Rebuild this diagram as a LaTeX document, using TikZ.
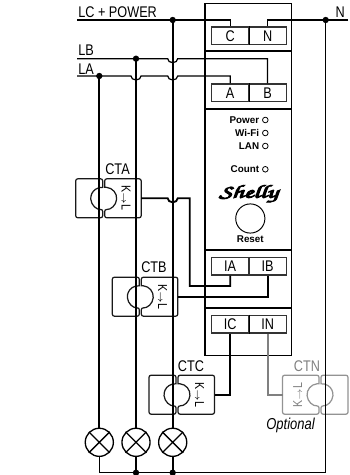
\documentclass[tikz,border=0pt]{standalone}
\usepackage{fontspec}
\usetikzlibrary{positioning}
\setmainfont[FakeStretch=0.82]{Liberation Sans}
\newfontfamily\panelfont{Liberation Sans}
\definecolor{wiregray}{HTML}{808080}
\tikzset{
	wire/.style={line width=1.05pt},
	thinwire/.style={line width=.7pt,color=black},
	junction/.style={circle,fill=black,inner sep=0pt,minimum size=3.6pt},
	terminal/.style={draw=black!80,line width=.7pt,minimum width=21.1pt,minimum height=10pt,inner sep=0pt,font=\fontsize{8.8}{9}\selectfont},
	lamp/.style={circle,draw,line width=.75pt,fill=white,minimum size=16pt,inner sep=0pt},
	led/.style={circle,draw,line width=.45pt,inner sep=0pt,minimum size=3.2pt},
	ledlabel/.style={inner sep=0pt,anchor=east,font=\panelfont\bfseries\fontsize{5.6}{6}\selectfont},
	tag/.style={inner sep=0pt,font=\fontsize{8.8}{9}\selectfont},
	kltag/.style={inner sep=0pt,font=\fontsize{7.4}{8}\selectfont}
}
% one clamp: name, centre of the ring, direction of the long half, colour
\newcommand{\ctclamp}[4]{
	\begin{scope}[shift={(#2)},xscale=#3,color=#4,line width=.7pt,rounded corners=1.2pt]
		\filldraw[fill=white] (-1,-19.5) -- (-28,-19.5) -- (-28,19.5) -- (-1,19.5) -- (-1,11) [sharp corners] arc (85:275:11) -- (-1,-11) [rounded corners=1.2pt] -- cycle;
		\filldraw[fill=white] (1,-19.5) -- (37.5,-19.5) -- (37.5,19.5) -- (1,19.5) -- (1,11) [sharp corners] arc (95:-85:11) -- (1,-11) [rounded corners=1.2pt] -- cycle;
		\coordinate (#1out) at (37.5,0);
	\end{scope}
}
\begin{document}
\begin{tikzpicture}[x=.02cm,y=-.02cm]
	\useasboundingbox (0,0) rectangle (350,475);

	\ctclamp{cta}{103.7,198.3}{1}{black!90}
	\ctclamp{ctb}{140.3,296.7}{1}{black!90}
	\ctclamp{ctc}{177,394.7}{1}{black!90}
	\ctclamp{ctn}{320,394.7}{-1}{wiregray!85}

	\node[terminal] (tC) at (230.2,35.8) {C};
	\node[terminal] (tN) at (267.6,35.8) {N};
	\node[terminal] (tA) at (230.2,92.8) {A};
	\node[terminal] (tB) at (267.6,92.8) {B};
	\node[terminal] (tIA) at (230.2,266.2) {IA};
	\node[terminal] (tIB) at (267.6,266.2) {IB};
	\node[terminal] (tIC) at (230.2,324.3) {IC};
	\node[terminal] (tIN) at (267.6,324.3) {IN};

	\coordinate (lcL) at (77,20);
	\coordinate (lcC) at (172.7,20);
	\coordinate (nR) at (348,20);
	\coordinate (nN) at (325.7,20);
	\coordinate (lbL) at (77,58.7);
	\coordinate (lbB) at (136,58.7);
	\coordinate (laL) at (77,76);
	\coordinate (laA) at (99.3,76);
	\coordinate (botA) at (99.3,472.7);
	\coordinate (botB) at (136,472.7);
	\coordinate (botC) at (172.7,472.7);
	\coordinate (botN) at (325.7,472.7);

	\node[lamp] (lampA) at (99.3,442.3) {};
	\node[lamp] (lampB) at (136,442.3) {};
	\node[lamp] (lampC) at (172.7,442.3) {};

	\draw[thinwire] (lcL) -| (tC.north);
	\draw[thinwire] (nR) -| (tN.north);
	\draw[thinwire] (lbL) -- (167.7,58.7) arc (180:0:5 and 4) -- (tB.north |- lbL) -- (tB.north);
	\draw[thinwire] (laL) -- (131,76) arc (180:0:5 and 4) -- (167.7,76) arc (180:0:5 and 4) -- (tA.north |- laL) -- (tA.north);
	\draw[thinwire] (nN) -- (botN) -- (botA);

	\draw[wire] (laA) -- (lampA);
	\draw[wire] (lbB) -- (lampB);
	\draw[wire] (lcC) -- (lampC);
	\draw[thinwire] (lampA) -- (botA);
	\draw[wire] (lampB) -- (botB);
	\draw[wire] (lampC) -- (botC);

	\foreach \lampname in {lampA,lampB,lampC}
		\draw[line width=.75pt] (\lampname.45) -- (\lampname.225) (\lampname.135) -- (\lampname.315);

	\foreach \dotname in {lcC,nN,lbB,laA,botB,botC}
		\node[junction] (dot\dotname) at (\dotname) {};

	\draw[line width=1.05pt] (205,3.5) rectangle (291.5,355.5);
	\draw[line width=1.05pt] (205,51) -- (291.5,51) (205,108.7) -- (291.5,108.7) (205,250) -- (291.5,250) (205,308) -- (291.5,308);
	\draw[line width=.9pt] (tC.north east) -- (tC.south east) (tA.north east) -- (tA.south east) (tIC.north east) -- (tIC.south east);

	\draw[wire] (ctaout) -- (167.7,198.3) arc (180:0:5 and 4) -- (189.7,198.3) -- (189.7,286) -- (tIA.south |- 0,286) -- (tIA.south);
	\draw[wire] (ctbout) -| (tIB.south);
	\draw[wire] (ctcout) -| (tIC.south);
	\draw[wiregray,line width=1.05pt] (ctnout) -| (tIN.south);

	\node[tag,anchor=base west] (lblLC) at (78,17.3) {LC + POWER};
	\node[tag,anchor=base west] (lblLB) at (78,55.5) {LB};
	\node[tag,anchor=base west] (lblLA) at (78,74.5) {LA};
	\node[tag,anchor=base east] (lblN) at (345,17.3) {N};
	\node[tag] (lblCTA) at (117.5,169) {CTA};
	\node[tag] (lblCTB) at (154,267.5) {CTB};
	\node[tag] (lblCTC) at (191,366) {CTC};
	\node[tag,color=wiregray] (lblCTN) at (307,366) {CTN};
	\node[inner sep=0pt,font=\itshape\fontsize{9}{9}\selectfont] (lblOpt) at (290.5,425) {Optional};

	\node[kltag,rotate=-90] (klA) at (126,198.3) {K$\scriptstyle\rightarrow$L};
	\node[kltag,rotate=-90] (klB) at (162.7,296.7) {K$\scriptstyle\rightarrow$L};
	\node[kltag,rotate=-90] (klC) at (199.5,394.7) {K$\scriptstyle\rightarrow$L};
	\node[kltag,rotate=90,color=wiregray] (klN) at (297.7,394.7) {K$\scriptstyle\rightarrow$L};

	\node[led] (ledP) at (265.3,120) {};
	\node[led] (ledW) at (265.3,133) {};
	\node[led] (ledL) at (265.3,146) {};
	\node[led] (ledC) at (265.3,169.3) {};
	\node[ledlabel,left=1.5pt of ledP] (txtP) {Power};
	\node[ledlabel,left=1.5pt of ledW] (txtW) {Wi-Fi};
	\node[ledlabel,left=1.5pt of ledL] (txtL) {LAN};
	\node[ledlabel,left=1.5pt of ledC] (txtC) {Count};
	\node[inner sep=0pt,xscale=1.5,font=\usefont{OT1}{pzc}{mb}{it}\fontsize{10.5}{12}\selectfont] (logo) at (248.5,194) {\special{pdf:code 2 Tr 0.5 w}Shelly\special{pdf:code 0 Tr}};
	\node[circle,draw,line width=.55pt,minimum size=16.6pt,inner sep=0pt] (btn) at (250.3,218.5) {};
	\node[inner sep=0pt,font=\panelfont\bfseries\fontsize{5.6}{6}\selectfont] (txtR) at (250.3,239) {Reset};
\end{tikzpicture}
\end{document}
